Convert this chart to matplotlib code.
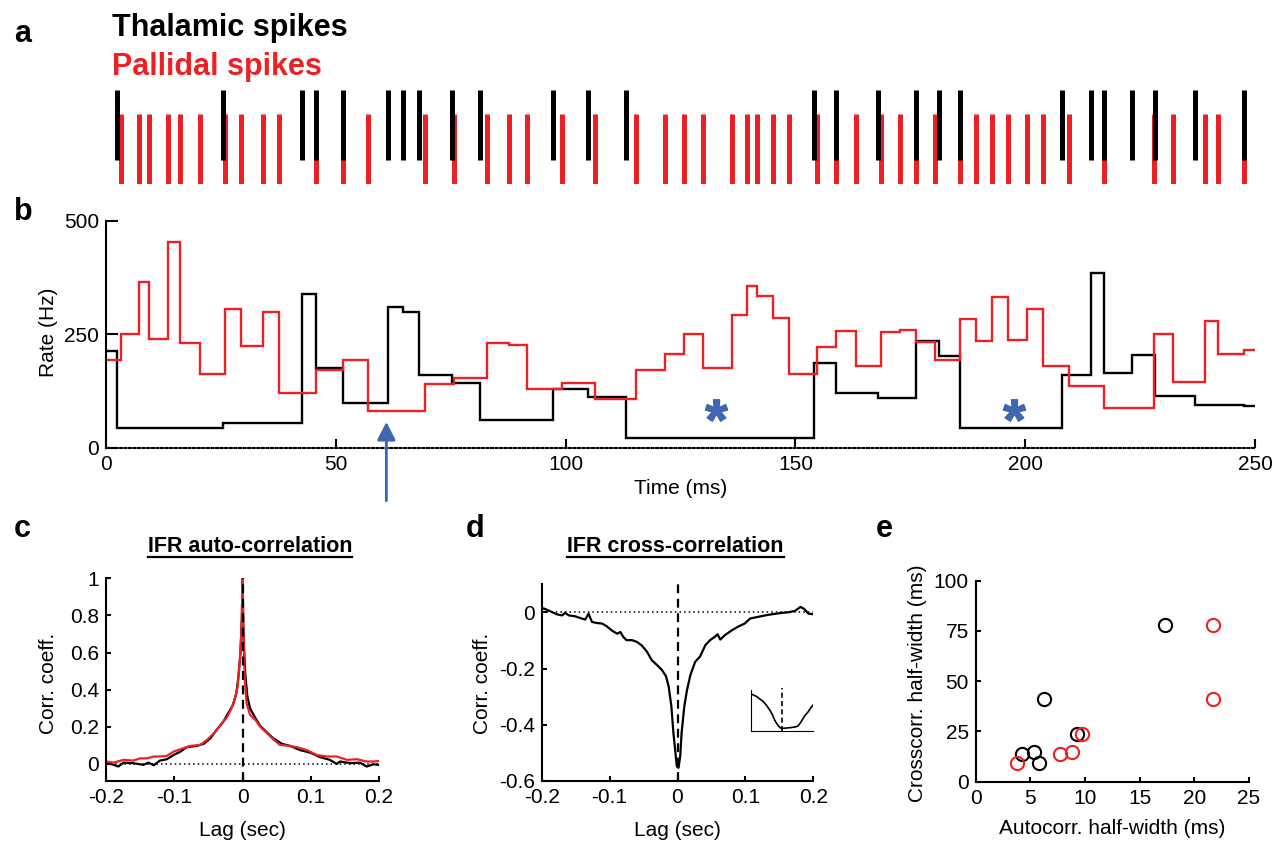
import numpy as np
import matplotlib
matplotlib.use('Agg')
import matplotlib.pyplot as plt
from matplotlib.lines import Line2D
from matplotlib.path import Path
from matplotlib.textpath import TextPath
from matplotlib.font_manager import FontProperties

plt.rcParams['font.family'] = ['Liberation Sans', 'DejaVu Sans']
plt.rcParams['axes.unicode_minus'] = False

RED = '#ed2024'
BLUE = '#3f67b1'

# spike times (ms) for the 250 ms example segment
thal_spikes = [2.5, 25.4, 42.6, 45.8, 51.6, 61.3, 64.7, 68.2, 75.2, 81.4, 97.3, 104.9,
               113.2, 154.0, 158.9, 167.9, 176.3, 181.2, 185.8, 208.1, 214.3, 217.1,
               223.3, 228.2, 237.0, 247.6]
pall_spikes = [3.2, 7.2, 9.3, 13.5, 16.2, 20.4, 26.0, 29.4, 34.2, 37.7, 45.8, 51.5, 57.1,
               69.5, 75.8, 82.8, 87.6, 91.7, 99.3, 106.3, 115.3, 121.6, 125.7, 129.8,
               136.1, 139.4, 141.6, 145.1, 148.5, 154.8, 158.9, 163.1, 168.6, 172.8,
               176.3, 180.4, 185.8, 189.3, 192.8, 196.3, 200.4, 203.9, 209.5, 217.1,
               228.1, 232.2, 239.2, 242.0, 247.6]

# instantaneous firing rate (Hz) between consecutive spikes
thal_rate = [213, 43, 54, 339, 175, 99, 311, 299, 161, 142, 62, 129, 112, 22, 187, 121,
             110, 236, 202, 43, 161, 386, 165, 204, 115, 94, 93]
pall_rate = [193, 250, 366, 240, 454, 230, 162, 307, 224, 299, 121, 171, 193, 80, 140,
             153, 232, 226, 129, 142, 107, 171, 207, 251, 175, 292, 357, 335, 285, 162,
             223, 258, 180, 256, 260, 234, 193, 284, 235, 332, 237, 306, 180, 137, 87,
             251, 144, 279, 207, 215]

arrow_time, arrow_rate = 61.0, 57.0
star_times = [132.7, 197.5]
star_rate = 83.0

# IFR auto-correlations
ac_lag_thal = [-0.200, -0.189, -0.182, -0.174, -0.160, -0.145, -0.138, -0.130, -0.121,
               -0.111, -0.101, -0.091, -0.082, -0.067, -0.057, -0.047, -0.038, -0.028,
               -0.021, -0.014, -0.009, -0.006, -0.003, -0.001, 0.0, 0.0015, 0.004, 0.007,
               0.011, 0.019, 0.026, 0.036, 0.045, 0.058, 0.070, 0.084, 0.099, 0.114,
               0.128, 0.138, 0.143, 0.158, 0.172, 0.182, 0.192, 0.200]
ac_thal = [0.007, -0.005, -0.014, 0.007, 0.004, -0.005, 0.007, -0.007, 0.018, 0.025,
           0.048, 0.066, 0.09, 0.097, 0.108, 0.138, 0.183, 0.228, 0.273, 0.318, 0.38,
           0.47, 0.596, 0.78, 1.0, 0.686, 0.488, 0.366, 0.30, 0.246, 0.205, 0.169, 0.138,
           0.108, 0.097, 0.075, 0.061, 0.036, 0.022, 0.0, 0.013, 0.004, 0.007, -0.014,
           -0.002, -0.005]
ac_lag_pall = [-0.200, -0.189, -0.174, -0.160, -0.150, -0.140, -0.130, -0.121, -0.111,
               -0.101, -0.091, -0.077, -0.062, -0.052, -0.042, -0.033, -0.023, -0.016,
               -0.011, -0.007, -0.004, -0.002, -0.001, 0.0, 0.0015, 0.0034, 0.006, 0.011,
               0.019, 0.026, 0.036, 0.045, 0.055, 0.065, 0.080, 0.094, 0.109, 0.124,
               0.138, 0.153, 0.168, 0.182, 0.192, 0.200]
ac_pall = [0.013, 0.007, 0.022, 0.018, 0.03, 0.03, 0.04, 0.04, 0.043, 0.066, 0.079,
           0.097, 0.102, 0.129, 0.165, 0.205, 0.25, 0.30, 0.354, 0.417, 0.56, 0.686, 0.78,
           1.0, 0.686, 0.45, 0.327, 0.264, 0.237, 0.2, 0.165, 0.133, 0.102, 0.099, 0.09,
           0.075, 0.048, 0.04, 0.04, 0.022, 0.025, 0.013, 0.013, 0.016]

# IFR cross-correlation
cc_lag = [-0.200, -0.1924, -0.185, -0.1777, -0.170, -0.1654, -0.160, -0.151, -0.141,
          -0.136, -0.131, -0.126, -0.119, -0.111, -0.104, -0.097, -0.089, -0.084, -0.080,
          -0.075, -0.067, -0.060, -0.053, -0.045, -0.038, -0.030, -0.023, -0.017, -0.013,
          -0.009, -0.006, -0.003, -0.001, 0.0015, 0.004, 0.006, 0.010, 0.014, 0.019,
          0.026, 0.033, 0.041, 0.048, 0.055, 0.059, 0.063, 0.070, 0.080, 0.090, 0.099,
          0.107, 0.117, 0.129, 0.139, 0.154, 0.163, 0.173, 0.181, 0.186, 0.193, 0.200]
cc = [0.0165, 0.009, 0.001, -0.007, -0.011, -0.002, -0.011, -0.014, -0.022, -0.026,
      -0.005, -0.034, -0.038, -0.040, -0.050, -0.064, -0.076, -0.070, -0.087, -0.099,
      -0.099, -0.105, -0.117, -0.140, -0.170, -0.188, -0.205, -0.227, -0.264, -0.335,
      -0.430, -0.500, -0.548, -0.553, -0.512, -0.430, -0.335, -0.276, -0.223, -0.176,
      -0.158, -0.117, -0.099, -0.087, -0.078, -0.097, -0.081, -0.064, -0.050, -0.040,
      -0.022, -0.017, -0.011, -0.007, -0.002, 0.000, 0.005, 0.019, 0.013, -0.005, -0.007]

# close-up of the trough (ms, normalised)
inset_lag = [-10.0, -9.3, -8.2, -7.2, -6.1, -5.1, -4.0, -3.1, -2.4, -1.6, -1.0, -0.5,
             0.0, 1.4, 2.5, 4.1, 5.1, 5.9, 6.7, 7.5, 8.3, 9.1, 9.9]
inset_cc = [0.90, 0.88, 0.84, 0.78, 0.72, 0.63, 0.51, 0.39, 0.26, 0.16, 0.10, 0.066,
            0.057, 0.066, 0.074, 0.090, 0.115, 0.197, 0.30, 0.39, 0.46, 0.55, 0.63]

# half-widths per recorded pair (ms)
thal_auto_hw = [4.2, 5.3, 5.8, 6.25, 9.24, 17.3]
pall_auto_hw = [7.7, 8.8, 3.75, 21.7, 9.7, 21.7]
cross_hw = [13.7, 14.6, 9.1, 41.1, 23.9, 77.8]

W, H = 1273, 844
fig = plt.figure(figsize=(W / 100, H / 100), dpi=100)


def box(left, top, right, bottom):
    return [left / W, 1 - bottom / H, (right - left) / W, (bottom - top) / H]


def clean(ax, tick_len=3.5):
    ax.spines['top'].set_visible(False)
    ax.spines['right'].set_visible(False)
    for s in ('left', 'bottom'):
        ax.spines[s].set_linewidth(1.5)
    ax.tick_params(direction='in', labelsize=15, width=1.5, length=tick_len, pad=5)


def underlined(x, y, s):
    t = fig.text(x / W, 1 - y / H, s, ha='center', va='baseline', fontsize=15.5,
                 fontweight='bold')
    fig.canvas.draw()
    bb = t.get_window_extent()
    yl = 1 - (y + 5) / H
    fig.add_artist(Line2D([bb.x0 / W, bb.x1 / W], [yl, yl], transform=fig.transFigure,
                          color='k', lw=1.6))


def star_marker():
    # bold asterisk glyph, centred, usable as a marker path
    tp = TextPath((0, 0), '*', prop=FontProperties(family='Liberation Sans',
                                                   weight='bold'))
    verts = tp.vertices.copy()
    codes = tp.codes
    real = codes != Path.CLOSEPOLY
    cx = (verts[real, 0].min() + verts[real, 0].max()) / 2
    cy = (verts[real, 1].min() + verts[real, 1].max()) / 2
    verts[~real] = (cx, cy)
    return Path(verts - (cx, cy), codes)


# ---- a: raster
axa = fig.add_axes(box(106, 90, 1255, 184))
axa.vlines(pall_spikes, 0, 0.745, color=RED, lw=3.6, capstyle='butt')
axa.vlines(thal_spikes, 0.255, 1, color='k', lw=3.6, capstyle='butt')
axa.set_xlim(0, 250)
axa.set_ylim(0, 1)
axa.axis('off')

# ---- b: instantaneous firing rate
axb = fig.add_axes(box(106, 221, 1255, 447.7))
thal_edges = [0] + thal_spikes + [250]
pall_edges = [0] + pall_spikes + [250]
axb.stairs(thal_rate, thal_edges, color='k', lw=1.7, baseline=None)
axb.stairs(pall_rate, pall_edges, color=RED, lw=1.7, baseline=None)
axb.set_xlim(0, 250)
axb.set_ylim(0, 500)
clean(axb)
axb.spines['bottom'].set_linestyle((0, (1, 1.2)))
axb.tick_params(axis='y', length=8.5)
axb.tick_params(axis='x', length=6.5)
axb.set_xticks([0, 50, 100, 150, 200, 250])
axb.set_yticks([0, 250, 500])

axb.annotate('', xy=(arrow_time, arrow_rate), xytext=(arrow_time, -117),
             annotation_clip=False,
             arrowprops=dict(arrowstyle='-|>,head_length=0.55,head_width=0.28',
                             color=BLUE, lw=2, shrinkA=0, shrinkB=0,
                             mutation_scale=20))

axb.plot(star_times, [star_rate] * len(star_times), ls='none', marker=star_marker(),
         ms=16, color=BLUE, mec=BLUE)

fig.text(49 / W, 1 - 332 / H, 'Rate (Hz)', rotation=90, ha='center', va='center',
         fontsize=15)
fig.text(681 / W, 1 - 488 / H, 'Time (ms)', ha='center', va='center', fontsize=15)

# ---- c: auto-correlation
axc = fig.add_axes(box(106, 578.3, 379, 781))
axc.axhline(0, color='k', lw=1.1, ls=(0, (1, 2)))
axc.plot(ac_lag_thal, ac_thal, color='k', lw=1.6)
axc.plot(ac_lag_pall, ac_pall, color=RED, lw=1.6)
axc.axvline(0, color='k', lw=1.6, ls=(0, (4, 2.5)), zorder=5)
axc.set_xlim(-0.2, 0.2)
axc.set_ylim(-0.092, 1.0)
clean(axc)
axc.set_xticks([-0.2, -0.1, 0, 0.1, 0.2])
axc.set_xticklabels(['-0.2', '-0.1', '0', '0.1', '0.2'])
axc.set_yticks([0, 0.2, 0.4, 0.6, 0.8, 1])
axc.set_yticklabels(['0', '0.2', '0.4', '0.6', '0.8', '1'])
fig.text(49 / W, 1 - 683 / H, 'Corr. coeff.', rotation=90, ha='center', va='center',
         fontsize=15)
fig.text(242 / W, 1 - 830 / H, 'Lag (sec)', ha='center', va='center', fontsize=15)

# ---- d: cross-correlation
axd = fig.add_axes(box(541.7, 584.2, 813.3, 781))
axd.axhline(0, color='k', lw=1.1, ls=(0, (1, 2)))
axd.plot(cc_lag, cc, color='k', lw=1.6)
axd.plot([0, 0], [-0.6, 0.11], color='k', lw=1.6, ls=(0, (4, 2.5)), clip_on=False,
         zorder=5)
axd.set_xlim(-0.2, 0.2)
axd.set_ylim(-0.6, 0.1)
clean(axd)
axd.set_xticks([-0.2, -0.1, 0, 0.1, 0.2])
axd.set_xticklabels(['-0.2', '-0.1', '0', '0.1', '0.2'])
axd.set_yticks([-0.6, -0.4, -0.2, 0])
axd.set_yticklabels(['-0.6', '-0.4', '-0.2', '0'])
fig.text(482.5 / W, 1 - 683 / H, 'Corr. coeff.', rotation=90, ha='center', va='center',
         fontsize=15)
fig.text(677 / W, 1 - 830 / H, 'Lag (sec)', ha='center', va='center', fontsize=15)

axi = fig.add_axes(box(751, 690, 813.3, 730.7))
axi.plot(inset_lag, inset_cc, color='k', lw=1.2)
axi.plot([0, 0], [0, 1.05], color='k', lw=1.2, ls=(0, (3, 2)), clip_on=False)
axi.set_xlim(-10, 10)
axi.set_ylim(0, 1)
axi.spines['top'].set_visible(False)
axi.spines['right'].set_visible(False)
axi.set_xticks([])
axi.set_yticks([])
axi.patch.set_alpha(0)

# ---- e: half-width scatter
axe = fig.add_axes(box(975.7, 580.7, 1249, 781.7))
axe.plot(thal_auto_hw, cross_hw, 'o', mfc='none', mec='k', ms=9.5, mew=1.5,
         clip_on=False)
axe.plot(pall_auto_hw, cross_hw, 'o', mfc='none', mec=RED, ms=9.5, mew=1.5,
         clip_on=False)
axe.set_xlim(0, 25)
axe.set_ylim(0, 100)
clean(axe)
axe.set_xticks([0, 5, 10, 15, 20, 25])
axe.set_yticks([0, 25, 50, 75, 100])
fig.text(917.5 / W, 1 - 683 / H, 'Crosscorr. half-width (ms)', rotation=90,
         ha='center', va='center', fontsize=15)
fig.text(1112 / W, 1 - 828 / H, 'Autocorr. half-width (ms)', ha='center',
         va='center', fontsize=15)

# ---- labels
fig.text(112 / W, 1 - 36 / H, 'Thalamic spikes', fontsize=22, fontweight='bold',
         color='k', va='baseline')
fig.text(112 / W, 1 - 75 / H, 'Pallidal spikes', fontsize=22, fontweight='bold',
         color=RED, va='baseline')
for lx, ly, letter in [(14, 42, 'a'), (14, 220, 'b'), (14, 537, 'c'), (466, 537, 'd'),
                       (876, 537, 'e')]:
    fig.text(lx / W, 1 - ly / H, letter, fontsize=22, fontweight='bold', va='baseline')

underlined(250, 551.7, 'IFR auto-correlation')
underlined(675.6, 551.7, 'IFR cross-correlation')

fig.savefig('out.png', dpi=100)
